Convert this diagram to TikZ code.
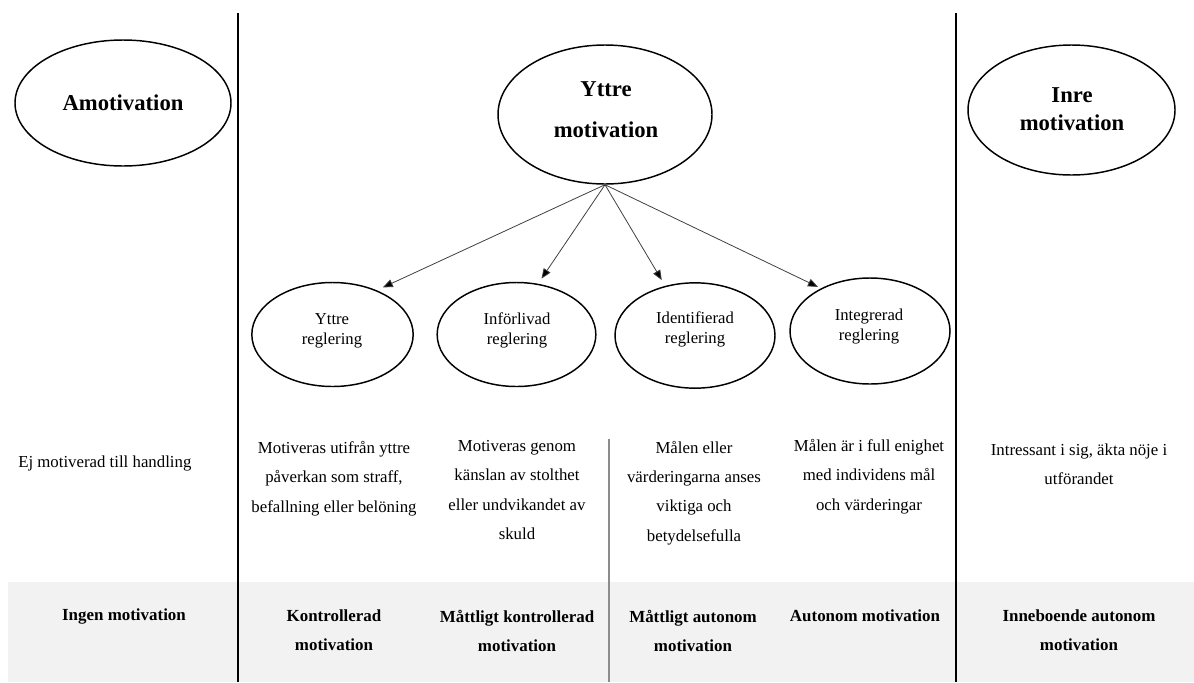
\documentclass[tikz,border=0pt]{standalone}
\usepackage{fontspec}
\setmainfont{Liberation Serif}
\usetikzlibrary{shapes.geometric,arrows.meta}
\definecolor{band}{HTML}{F2F2F2}
\definecolor{thinline}{HTML}{8C8C8C}
\begin{document}
\begin{tikzpicture}[x=0.75pt,y=-0.75pt,
  ell/.style={draw, ellipse, line width=1.1pt, inner sep=0pt},
  smell/.style={ell, minimum width=120pt, minimum height=78pt},
  bigtxt/.style={font=\fontsize{17}{31}\selectfont\bfseries, align=center, inner sep=0pt},
  smtxt/.style={font=\fontsize{12.5}{15}\selectfont, align=center, inner sep=0pt},
  bodytxt/.style={font=\fontsize{12.6}{22}\selectfont, align=center, inner sep=0pt},
  bottxt/.style={font=\fontsize{12.7}{21.75}\selectfont\bfseries, align=center, inner sep=0pt},
  divider/.style={line width=1.5pt},
  thindiv/.style={line width=1pt, draw=thinline},
  arr/.style={draw=black!75, line width=0.6pt, -{Triangle[length=7.5pt,width=6pt,fill=black]}}
]
\useasboundingbox (0,0) rectangle (1194,682);
% grey band
\fill[band] (8,582) rectangle (1194,682);
% dividers
\coordinate (d1t) at (238,13);
\coordinate (d1b) at (238,682);
\coordinate (d2t) at (956,13);
\coordinate (d2b) at (956,682);
\coordinate (d3t) at (609,439);
\coordinate (d3b) at (609,682);
\draw[divider] (d1t) -- (d1b);
\draw[divider] (d2t) -- (d2b);
\draw[thindiv] (d3t) -- (d3b);

% big ellipses
\node[ell, minimum width=162pt, minimum height=94.5pt] (amo) at (123,103) {};
\node[bigtxt] (amot) at (123,103) {Amotivation};
\node[ell, minimum width=160.5pt, minimum height=104.25pt] (ym) at (605,114.5) {};
\node[bigtxt] (ymt) at (606,109.5) {Yttre\\motivation};
\node[ell, minimum width=155.25pt, minimum height=97.5pt] (im) at (1071.5,110) {};
\node[bigtxt, font=\fontsize{17}{21}\selectfont\bfseries] (imt) at (1072,109) {Inre\\motivation};

% small ellipses
\node[smell, minimum width=121pt] (yr) at (332.5,334.5) {};
\node[smtxt] (yrt) at (332,330.5) {Yttre\\reglering};
\node[smell, minimum width=119pt] (ir) at (516.5,334.5) {};
\node[smtxt] (irt) at (517,330) {Införlivad\\reglering};
\node[smell, minimum height=79pt] (idr) at (695,335.5) {};
\node[smtxt] (idrt) at (695,329) {Identifierad\\reglering};
\node[smell, minimum height=79.5pt] (igr) at (870,331) {};
\node[smtxt] (igrt) at (869,327) {Integrerad\\reglering};

% arrows
\draw[arr, shorten >=5pt] (ym.south) -- (yr.45.6);
\draw[arr, shorten >=4.6pt] (ym.south) -- (ir.67.9);
\draw[arr, shorten >=5pt] (ym.south) -- (idr.121.2);
\draw[arr, shorten >=2.5pt] (ym.south) -- (igr.139.8);

% descriptions
\node[bodytxt, anchor=west] (d0) at (18,463) {Ej motiverad till handling};
\node[bodytxt] (d1) at (334,478.5) {Motiveras utifrån yttre\\påverkan som straff,\\befallning eller belöning};
\node[bodytxt] (d2) at (517,490) {Motiveras genom\\känslan av stolthet\\eller undvikandet av\\skuld};
\node[bodytxt] (d3) at (694,493) {Målen eller\\värderingarna anses\\viktiga och\\betydelsefulla};
\node[bodytxt] (d4) at (869,476.5) {Målen är i full enighet\\med individens mål\\och värderingar};
\node[bodytxt] (d5) at (1079,464) {Intressant i sig, äkta nöje i\\utförandet};

% bottom row
\node[bottxt] (b0) at (124,616) {Ingen motivation};
\node[bottxt] (b1) at (334,630.5) {Kontrollerad\\motivation};
\node[bottxt] (b2) at (517,630.5) {Måttligt kontrollerad\\motivation};
\node[bottxt] (b3) at (693,630.5) {Måttligt autonom\\motivation};
\node[bottxt] (b4) at (865,616) {Autonom motivation};
\node[bottxt] (b5) at (1079,630.5) {Inneboende autonom\\motivation};
\end{tikzpicture}
\end{document}
